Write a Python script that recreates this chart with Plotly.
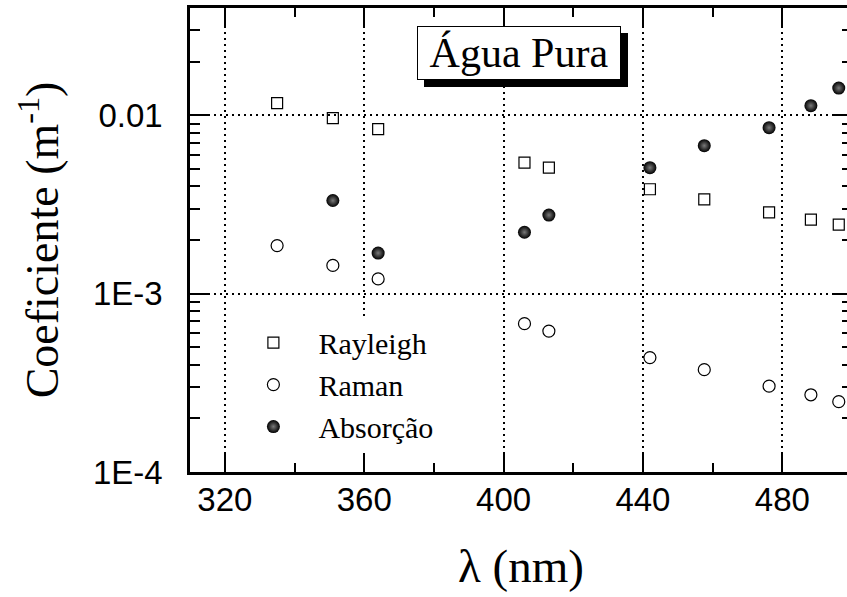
import plotly.graph_objects as go

# Wavelengths (nm) and coefficients (1/m) for pure water
wl_scatter = [335, 351, 364, 406, 413, 442, 457.6, 476.2, 488.2, 496.2]
rayleigh = [0.0117, 0.00966, 0.00838, 0.00543, 0.00509, 0.00385, 0.00338, 0.00286, 0.00260, 0.00244]
raman = [0.00186, 0.00144, 0.00121, 0.000679, 0.000617, 0.000438, 0.000375, 0.000303, 0.000271, 0.000248]

wl_abs = [351, 364, 406, 413, 442, 457.6, 476.2, 488.2, 496.2]
absorcao = [0.00333, 0.00169, 0.00221, 0.00276, 0.00509, 0.00676, 0.00853, 0.01133, 0.01423]

x_ticks = [320, 360, 400, 440, 480]
y_ticks = [1e-4, 1e-3, 1e-2]
y_ticktext = ["1E-4", "1E-3", "0.01"]
y_minor = [m * 10.0 ** e for e in (-4, -3, -2) for m in range(2, 10) if m * 10.0 ** e < 0.0399]

X_RANGE = [310, 500]
Y_RANGE = [-4, -1.398]

SERIF = "Liberation Serif"
SANS = "Liberation Sans"

fig = go.Figure()
fig.add_trace(go.Scatter(
    x=wl_scatter, y=rayleigh, mode="markers", name="Rayleigh",
    marker=dict(symbol="square-open", size=11, color="black", line=dict(width=1.2, color="black")),
))
fig.add_trace(go.Scatter(
    x=wl_scatter, y=raman, mode="markers", name="Raman",
    marker=dict(symbol="circle-open", size=12, color="black", line=dict(width=1.2, color="black")),
))
fig.add_trace(go.Scatter(
    x=wl_abs, y=absorcao, mode="markers", name="Absorção",
    marker=dict(symbol="circle", size=13, color="black",
                gradient=dict(type="radial", color="#7a7a7a"),
                line=dict(width=0)),
))

fig.update_xaxes(
    showline=True, linecolor="black", linewidth=2.5, mirror="ticks",
    ticks="inside", tickcolor="black", tickwidth=2.4, ticklen=18,
    minor=dict(ticks="inside", ticklen=9, tickwidth=2.4, tickcolor="black", dtick=20, tick0=300, showgrid=False),
    showgrid=True, gridcolor="black", gridwidth=1.6, griddash="2px,4px",
    zeroline=False,
    range=X_RANGE,
    tickmode="array", tickvals=x_ticks,
    tickfont=dict(family=SANS, size=33, color="black"),
    ticklabelstandoff=-3,
    title=dict(text="λ (nm)", font=dict(family=SERIF, size=47, color="black"), standoff=32),
)
fig.update_yaxes(
    showline=True, linecolor="black", linewidth=2.5, mirror="ticks",
    ticks="inside", tickcolor="black", tickwidth=2.4, ticklen=18,
    minor=dict(ticks="inside", ticklen=10, tickwidth=2.4, tickcolor="black", tickmode="array",
               tickvals=y_minor, showgrid=False),
    showgrid=True, gridcolor="black", gridwidth=1.6, griddash="2px,4px",
    zeroline=False,
    type="log",
    range=Y_RANGE,
    tickmode="array", tickvals=y_ticks, ticktext=y_ticktext,
    tickfont=dict(family=SANS, size=33, color="black"),
    ticklabelstandoff=18,
    title=dict(text="Coeficiente (m<sup>-1</sup>)", font=dict(family=SERIF, size=46, color="black"), standoff=20),
)

# Title box with drop shadow
title_kw = dict(xref="paper", yref="paper", x=0.497, y=0.903, xanchor="center", yanchor="middle",
                showarrow=False, text="Água Pura", width=200, height=50, borderpad=1, borderwidth=1)
fig.add_annotation(**title_kw, xshift=7, yshift=-7, bgcolor="black", bordercolor="black",
                   font=dict(family=SERIF, size=42, color="black"))
fig.add_annotation(**title_kw, bgcolor="white", bordercolor="black",
                   font=dict(family=SERIF, size=42, color="black"))

fig.update_layout(
    template="simple_white",
    width=860, height=597,
    margin=dict(l=190, r=5, t=7, b=125),
    paper_bgcolor="white", plot_bgcolor="white",
    showlegend=True,
    legend=dict(
        x=0.058, y=0.335, xanchor="left", yanchor="top",
        bgcolor="white", borderwidth=0,
        font=dict(family=SERIF, size=30, color="black"),
        itemwidth=80, tracegroupgap=0,
    ),
)

fig.write_html(
    "out.html",
    post_script="document.documentElement.style.overflow='hidden';document.body.style.overflow='hidden';",
)
